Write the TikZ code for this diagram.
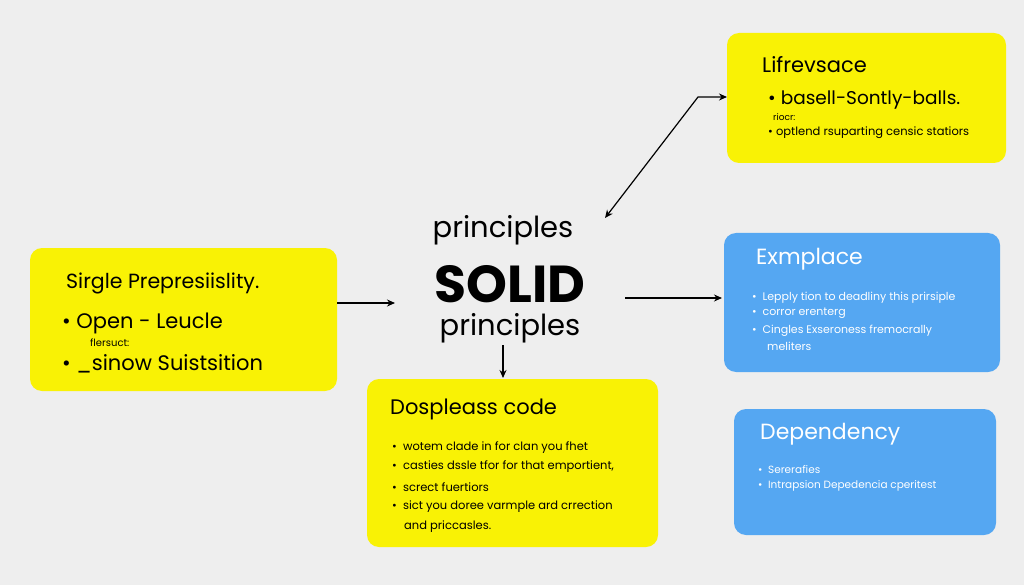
\documentclass[tikz,border=0pt]{standalone}
\usepackage{fontspec}
\setmainfont{Poppins}
\usetikzlibrary{arrows.meta}
\definecolor{bg}{HTML}{EEEEEE}
\definecolor{yel}{HTML}{F9F205}
\definecolor{blu}{HTML}{55A7F2}
\tikzset{
 box/.style={rounded corners=12pt,draw=none},
 ybox/.style={box,fill=yel},
 bbox/.style={box,fill=blu},
 tx/.style={anchor=west,inner sep=0pt},
 arr/.style={-{Stealth[length=8pt,width=7pt]},line width=1.2pt,black},
}
\newcommand{\fs}[1]{\fontsize{#1}{#1}\selectfont}
\begin{document}
\begin{tikzpicture}[x=1pt,y=-1pt]
\fill[bg] (0,0) rectangle (1024,585);
\useasboundingbox (0,0) rectangle (1024,585);
% boxes
\fill[ybox] (30,248) rectangle (337,391);
\fill[ybox] (727,33) rectangle (1006,163);
\fill[bbox] (724,233) rectangle (1000,372);
\fill[bbox] (734,409) rectangle (996,535);
\fill[ybox] (367,379) rectangle (658,547);
% left box
\node[tx] (l1) at (66,283) {\fs{20.5}Sirgle Prepresiislity.};
\node[tx] (l2) at (62,323) {\fs{21}• Open - Leucle};
\node[tx] (l3) at (90,343) {\fs{10}flersuct:};
\node[tx] (l4) at (62,364) {\fs{21}• \_sinow Suistsition};
% top right
\node[tx] (t1) at (762,65) {\fs{21}Lifrevsace};
\node[tx] (t2) at (768,100) {\fs{18.5}• basell-Sontly-balls.};
\node[tx] (t3) at (773,117) {\fs{9}riocr:};
\node[tx] (t4) at (768,133) {\fs{11.5}• optlend rsuparting censic statiors};
% blue 1
\node[tx,text=white] (b1) at (756,259) {\fs{22}Exmplace};
\node[tx,text=white] (b2) at (752,298) {\fs{11}• \ Lepply tion to deadliny this prirsiple};
\node[tx,text=white] (b3) at (752,313) {\fs{11}• \ corror erenterg};
\node[tx,text=white] (b4) at (752,331) {\fs{11}• \ Cingles Exseroness fremocrally};
\node[tx,text=white] (b5) at (767,346) {\fs{11}meliters};
% blue 2
\node[tx,text=white] (d1) at (760,434) {\fs{22}Dependency};
\node[tx,text=white] (d2) at (758,470) {\fs{10.5}• \ Sererafies};
\node[tx,text=white] (d3) at (758,486) {\fs{10.5}• \ Intrapsion Depedencia cperitest};
% bottom yellow
\node[tx] (y1) at (390,409) {\fs{21}Dospleass code};
\node[tx] (y2) at (392,448) {\fs{11.5}• \ wotem clade in for clan you fhet};
\node[tx] (y3) at (392,467) {\fs{11.5}• \ casties dssle tfor for that emportient,};
\node[tx] (y4) at (392,487) {\fs{11.5}• \ screct fuertiors};
\node[tx] (y5) at (392,507) {\fs{11.5}• \ sict you doree varmple ard crrection};
\node[tx] (y6) at (404,527) {\fs{11.5}and priccasles.};
% center
\node[inner sep=0pt] (c1) at (503,230) {\fs{29}principles};
\node[inner sep=0pt] (c2) at (510,284) {\fs{52}\bfseries SOLID};
\node[inner sep=0pt] (c3) at (510,328) {\fs{29}principles};
% arrows
\coordinate (a1) at (337,303);
\coordinate (a2) at (395,303);
\coordinate (a3) at (625,298);
\coordinate (a4) at (722,298);
\coordinate (a5) at (503,345);
\coordinate (a6) at (503,378);
\coordinate (a7) at (605,218);
\coordinate (a8) at (698,97);
\coordinate (a9) at (727,97);
\draw[arr] (a1) -- (a2);
\draw[arr] (a3) -- (a4);
\draw[arr] (a5) -- (a6);
\draw[arr,{Stealth[length=8pt,width=7pt]}-{Stealth[length=8pt,width=7pt]}] (a7) -- (a8) -- (a9);
\end{tikzpicture}
\end{document}
